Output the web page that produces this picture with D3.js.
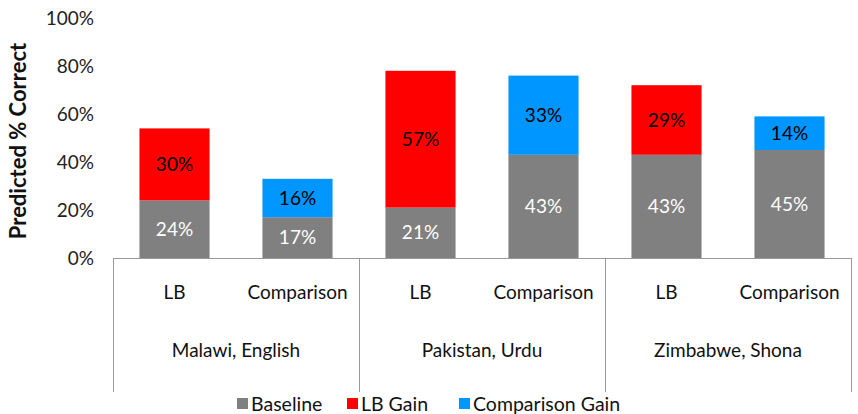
<!DOCTYPE html>
<html>
<head>
<meta charset="utf-8">
<script src="https://cdn.jsdelivr.net/npm/d3@7"></script>
<style>
  body { margin: 0; background: #fff; }
  text { font-family: "Lato", "Open Sans", sans-serif; }
</style>
</head>
<body>
<svg id="chart" width="858" height="414"></svg>
<script>
// chart data
var groups = ["Malawi, English", "Pakistan, Urdu", "Zimbabwe, Shona"];
var bars = ["LB", "Comparison"];
var baseline = [[24, 17], [21, 43], [43, 45]];
var gain = [[30, 16], [57, 33], [29, 14]];
var yTicks = [0, 20, 40, 60, 80, 100];
var legendNames = ["Baseline", "LB Gain", "Comparison Gain"];

var colors = { base: "#808080", lb: "#FF0000", comp: "#0096FF" };

var svg = d3.select("#chart");
var plotLeft = 113, plotRight = 851, plotTop = 18, plotBottom = 258;
var fs = 19;

var x0 = d3.scaleBand().domain(groups).range([plotLeft, plotRight]).padding(0);
var x1 = d3.scaleBand().domain(bars).range([0, x0.bandwidth()]).paddingInner(0.43).paddingOuter(0.215);
var y = d3.scaleLinear().domain([0, 100]).range([plotBottom, plotTop]);

// y tick labels
svg.append("g").selectAll("text")
  .data(yTicks)
  .enter().append("text")
  .attr("x", 94)
  .attr("y", function(d) { return y(d); })
  .attr("dy", "0.35em")
  .attr("text-anchor", "end")
  .attr("font-size", fs)
  .attr("fill", "#222")
  .text(function(d) { return d + "%"; });

// y title
svg.append("text")
  .attr("transform", "translate(26,141) rotate(-90)")
  .attr("text-anchor", "middle")
  .attr("font-size", 22)
  .attr("font-weight", "bold")
  .attr("fill", "#111")
  .text("Predicted % Correct");

// bars
groups.forEach(function(g, gi) {
  var gx = x0(g);
  bars.forEach(function(b, bi) {
    var bx = gx + x1(b);
    var w = x1.bandwidth();
    var b0 = baseline[gi][bi];
    var g0 = gain[gi][bi];
    svg.append("rect")
      .attr("x", bx).attr("width", w)
      .attr("y", y(b0)).attr("height", y(0) - y(b0))
      .attr("fill", colors.base);
    svg.append("rect")
      .attr("x", bx).attr("width", w)
      .attr("y", y(b0 + g0)).attr("height", y(b0) - y(b0 + g0))
      .attr("fill", bi == 0 ? colors.lb : colors.comp);
    svg.append("text")
      .attr("x", bx + w / 2).attr("y", y(b0 / 2))
      .attr("dy", "0.35em").attr("text-anchor", "middle")
      .attr("font-size", fs).attr("fill", "#fff")
      .text(b0 + "%");
    svg.append("text")
      .attr("x", bx + w / 2).attr("y", y(b0 + g0 / 2))
      .attr("dy", "0.35em").attr("text-anchor", "middle")
      .attr("font-size", fs).attr("fill", "#000")
      .text(g0 + "%");
    // category label
    svg.append("text")
      .attr("x", bx + w / 2).attr("y", 292)
      .attr("dy", "0.35em").attr("text-anchor", "middle")
      .attr("font-size", fs).attr("fill", "#111")
      .text(b);
  });
  svg.append("text")
    .attr("x", gx + x0.bandwidth() / 2).attr("y", 350)
    .attr("dy", "0.35em").attr("text-anchor", "middle")
    .attr("font-size", fs).attr("fill", "#111")
    .text(g);
});

// category axis with group separators
svg.append("line")
  .attr("x1", plotLeft).attr("x2", plotRight)
  .attr("y1", plotBottom + 0.5).attr("y2", plotBottom + 0.5)
  .attr("stroke", "#999").attr("stroke-width", 1);
var seps = groups.map(function(g) { return x0(g); }).concat([plotRight]);
svg.append("g").selectAll("line")
  .data(seps)
  .enter().append("line")
  .attr("x1", function(d) { return Math.round(d) + 0.5; })
  .attr("x2", function(d) { return Math.round(d) + 0.5; })
  .attr("y1", plotBottom).attr("y2", 392)
  .attr("stroke", "#999").attr("stroke-width", 1);

// legend
var legendX = [237, 347, 459];
var legendCol = [colors.base, colors.lb, colors.comp];
legendNames.forEach(function(n, i) {
  svg.append("rect")
    .attr("x", legendX[i]).attr("y", 398)
    .attr("width", 11).attr("height", 11)
    .attr("fill", legendCol[i]);
  svg.append("text")
    .attr("x", legendX[i] + 14).attr("y", 404)
    .attr("dy", "0.35em")
    .attr("font-size", 19.5).attr("fill", "#111")
    .text(n);
});
</script>
</body>
</html>
